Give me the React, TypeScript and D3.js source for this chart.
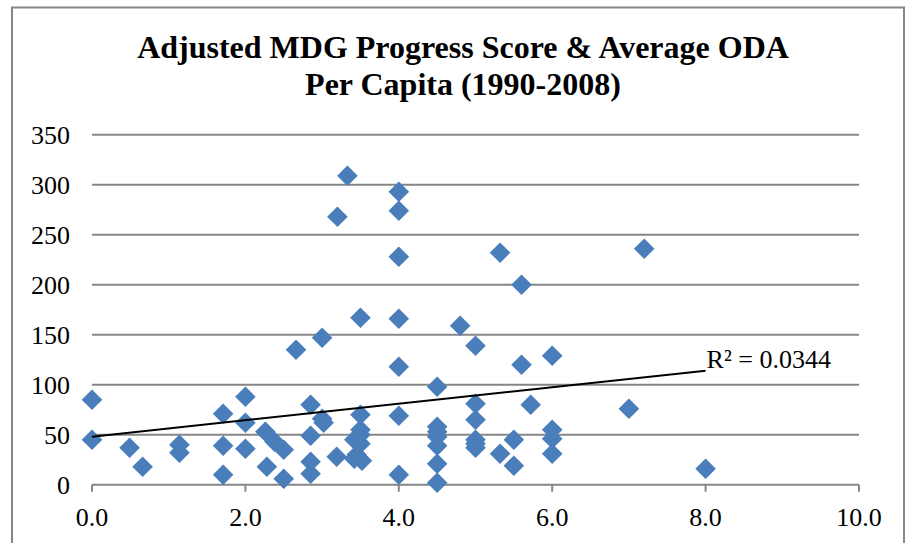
import { useMemo } from "react";
import { scaleLinear, line } from "d3";

// Adjusted MDG progress score (x) vs average ODA per capita (y)
const scores = [
  0.0, 0.0, 0.49, 0.66, 1.14, 1.14, 1.71, 1.71, 1.71, 2.0, 2.0, 2.0,
  2.26, 2.38, 2.5, 2.28, 2.5, 2.66, 2.85, 2.85, 2.85, 2.85, 3.0, 3.0,
  3.02, 3.19, 3.2, 3.33, 3.5, 3.5, 3.5, 3.5, 3.42, 3.5, 3.45, 3.42,
  3.52, 4.0, 4.0, 4.0, 4.0, 4.0, 4.0, 4.0, 4.5, 4.5, 4.5, 4.5, 4.5,
  4.5, 4.5, 4.8, 5.0, 5.0, 5.0, 5.0, 5.0, 5.0, 5.32, 5.32, 5.5, 5.5,
  5.6, 5.6, 5.72, 6.0, 6.0, 6.0, 6.0, 7.0, 7.2, 8.0,
];
const oda = [
  85, 45, 37, 18, 40, 32, 71, 39, 10, 88, 62, 36,
  53, 43, 35, 18, 6, 135, 80, 49, 23, 11, 147, 66,
  62, 28, 268, 309, 167, 70, 55, 50, 45, 41, 30, 26,
  24, 293, 274, 228, 166, 118, 69, 10, 98, 58, 53, 48, 39,
  21, 2, 159, 139, 81, 65, 45, 41, 37, 232, 31, 45, 19,
  200, 120, 80, 129, 55, 46, 31, 76, 236, 16,
];

// linear trendline as shown in the source chart
const trendX = [0, 8];
const trendY = [48, 114];
const rSquaredLabel = "R² = 0.0344";

const xTicks = [0, 2, 4, 6, 8, 10];
const yTicks = [0, 50, 100, 150, 200, 250, 300, 350];
const titleLines = [
  "Adjusted MDG Progress Score & Average ODA",
  "Per Capita (1990-2008)",
];

const W = 909;
const H = 543;
const plot = { left: 92, right: 859, top: 134.7, bottom: 484.7 };
const grid = "#868686";
const blue = "#4A7EBB";
const font = "'Liberation Serif', 'Times New Roman', serif";

export default function App() {
  const x = useMemo(
    () => scaleLinear().domain([0, 10]).range([plot.left, plot.right]),
    []
  );
  const y = useMemo(
    () => scaleLinear().domain([0, 350]).range([plot.bottom, plot.top]),
    []
  );

  const trendPath = line<number>()
    .x((_, i) => x(trendX[i]))
    .y((d) => y(d))(trendY);

  const r = 10.3;
  const diamond = (cx: number, cy: number) =>
    `M${cx},${cy - r}L${cx + r},${cy}L${cx},${cy + r}L${cx - r},${cy}Z`;

  const trendEndX = x(trendX[1]);
  const trendEndY = y(trendY[1]);

  return (
    <svg
      width={W}
      height={H}
      style={{ position: "absolute", left: 0, top: 0, background: "#fff" }}
      fontFamily={font}
    >
      <rect x={12} y={7.5} width={892} height={560} fill="#fff" stroke={grid} strokeWidth={2} />

      {titleLines.map((t, i) => (
        <text
          key={t}
          x={463}
          y={58 + i * 37}
          textAnchor="middle"
          fontSize={32}
          fontWeight="bold"
          fill="#000"
        >
          {t}
        </text>
      ))}

      {yTicks.map((t) => (
        <g key={t}>
          <line x1={plot.left} x2={plot.right} y1={y(t)} y2={y(t)} stroke={grid} strokeWidth={2} />
          <text x={70} y={y(t)} dy="0.35em" textAnchor="end" fontSize={26}>
            {t}
          </text>
        </g>
      ))}

      {xTicks.map((t) => (
        <g key={t}>
          <line x1={x(t)} x2={x(t)} y1={plot.bottom} y2={plot.bottom + 7} stroke={grid} strokeWidth={2} />
          <text x={x(t)} y={526} textAnchor="middle" fontSize={26}>
            {t.toFixed(1)}
          </text>
        </g>
      ))}

      {scores.map((s, i) => (
        <path key={i} d={diamond(x(s), y(oda[i]))} fill={blue} />
      ))}

      <path d={trendPath ?? ""} stroke="#000" strokeWidth={2} fill="none" />
      <text x={trendEndX + 1} y={trendEndY - 3} fontSize={26}>
        {rSquaredLabel}
      </text>
    </svg>
  );
}
